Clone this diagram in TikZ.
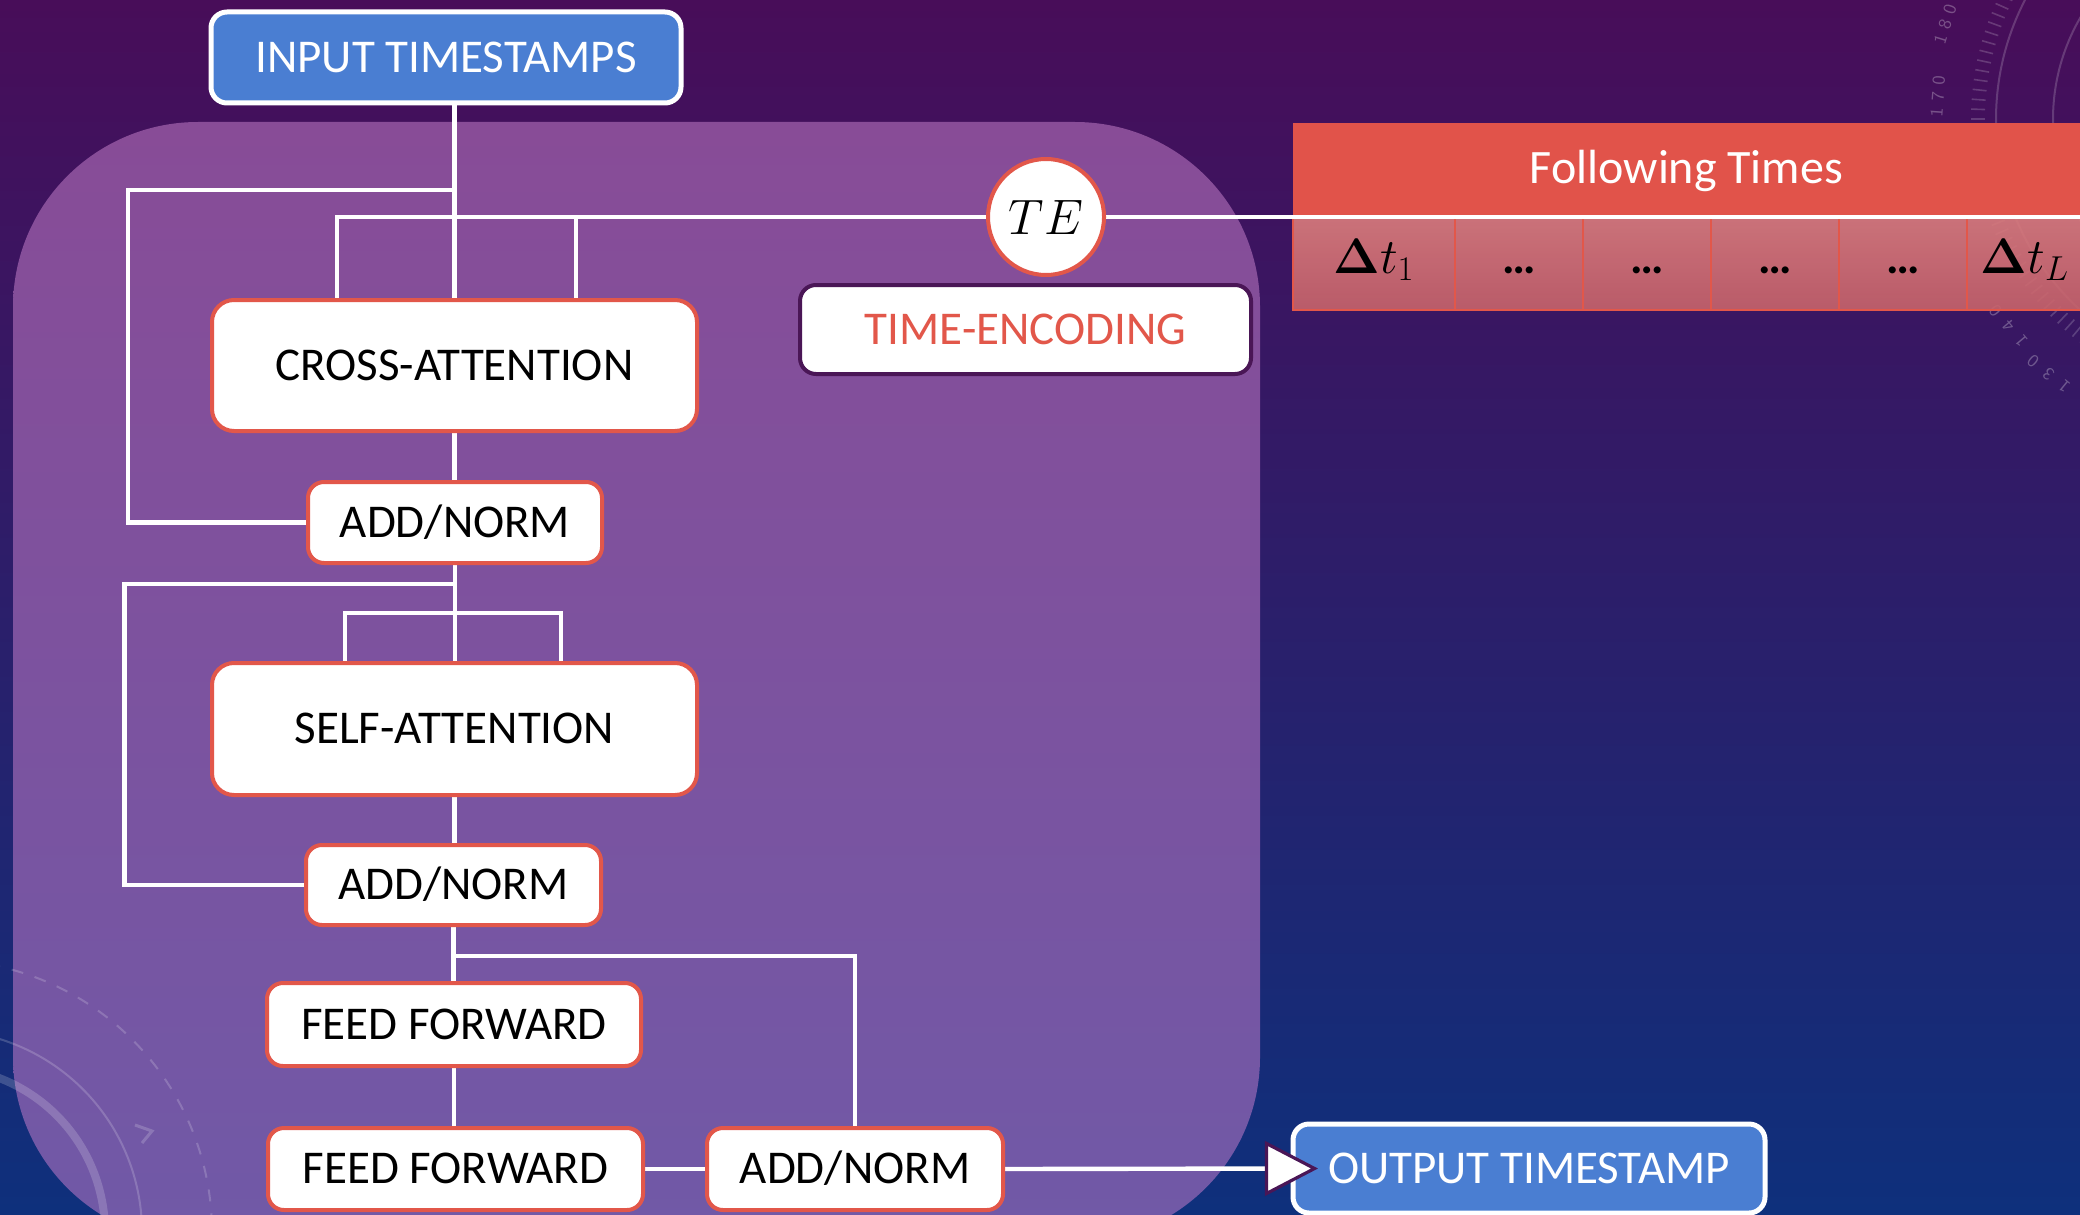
\documentclass[tikz,border=0pt]{standalone}
\usepackage[no-math]{fontspec}
\setmainfont{Carlito}
\usetikzlibrary{calc}
\definecolor{bgtop}{HTML}{480D59}
\definecolor{bgmid}{HTML}{2B1D6D}
\definecolor{bgbot}{HTML}{0E307C}
\definecolor{paneltop}{HTML}{884C97}
\definecolor{panelbot}{HTML}{7059A7}
\definecolor{boxred}{HTML}{E2574A}
\definecolor{ioblue}{HTML}{4A7ED2}
\definecolor{plum}{HTML}{4A1656}
\definecolor{hdrred}{HTML}{E1534A}
\definecolor{celltop}{HTML}{DA7C7C}
\definecolor{cellbot}{HTML}{C8636A}
\pgfdeclarelayer{back}
\pgfdeclarelayer{wires}
\pgfsetlayers{back,wires,main}
\begin{document}
\begin{tikzpicture}[x=0.5pt,y=-0.5pt,
  font=\fontsize{23.5}{28}\selectfont,
  link/.style={draw=white,line width=2.2pt},
  block/.style={draw=boxred,fill=white,line width=2pt,text=black,inner sep=0pt,
    text height=14.8pt,text depth=0pt,align=center},
  bigblock/.style={block,rounded corners=11pt,minimum width=242.5pt,minimum height=65.5pt},
  smallblock/.style={block,rounded corners=8pt},
  ioblock/.style={draw=white,fill=ioblue,line width=2.5pt,text=white,rounded corners=8pt,
    inner sep=0pt,text height=14.8pt,text depth=0pt},
  celltext/.style={inner sep=0pt,text height=12pt,text depth=3.5pt,text=black},
  deco/.style={draw=white,draw opacity=0.18},
  decolabel/.style={text=white,text opacity=0.28,font=\fontsize{9}{11}\selectfont\sffamily,inner sep=0pt},
]
\useasboundingbox (0,0) rectangle (2080,1214);
\clip (0,0) rectangle (2080,1214);

% ---------- blocks ----------
\node[ioblock,minimum width=235pt,minimum height=45.5pt] (input) at (446,57.5) {INPUT TIMESTAMPS};
\node[bigblock] (ca) at (454.5,365.5) {CROSS-ATTENTION};
\node[smallblock,minimum width=147pt,minimum height=40.5pt] (an1) at (455,522.5) {ADD/NORM};
\node[bigblock,minimum height=66pt] (sa) at (454.5,729) {SELF-ATTENTION};
\node[smallblock,minimum width=147.5pt,minimum height=40pt] (an2) at (453.5,885) {ADD/NORM};
\node[smallblock,minimum width=187pt,minimum height=41.5pt] (ff1) at (454,1024.5) {FEED FORWARD};
\node[smallblock,minimum width=187.5pt,minimum height=41pt] (ff2) at (455.5,1169) {FEED FORWARD};
\node[smallblock,minimum width=148pt,minimum height=41pt] (an3) at (855,1169) {ADD/NORM};
\node[ioblock,minimum width=236pt,minimum height=44.5pt] (out) at (1529,1168.5) {OUTPUT TIMESTAMP};
\node[circle,draw=boxred,fill=white,line width=2pt,minimum size=58pt,inner sep=0pt] (te) at (1046,217)
  {\fontsize{42}{46}\selectfont$TE$};
\node[draw=plum,fill=white,line width=2pt,rounded corners=8pt,minimum width=225.5pt,minimum height=44.5pt,
  text=boxred,inner sep=0pt,text height=14.8pt,text depth=0pt] (tenc) at (1025.5,329.5) {TIME-ENCODING};

% arrow head into the output block
\coordinate (tip) at ($(out.west)+(24,0)$);
\draw[plum,fill=white,line width=1.6pt,line join=miter] (tip) -- ++(-48,-25) -- ++(0,50) -- cycle;

% ---------- backdrop ----------
\begin{pgfonlayer}{back}
\shade[top color=bgtop,middle color=bgmid,bottom color=bgbot] (0,0) rectangle (2080,1214);

% protractor ornament, top right
\coordinate (pc) at (2255,119);
\draw[deco,line width=1pt] (pc) ++(212:259) arc[start angle=212,end angle=120,radius=259];
\draw[deco,line width=1pt] (pc) ++(220:202) arc[start angle=220,end angle=120,radius=202];
\foreach \a in {126,128,...,214} \draw[deco,line width=0.8pt] (pc) ++(\a:270) -- ++(\a:14);
% scale numbers, one widely spaced digit at a time along the rim
\foreach \da/\db/\dc/\a/\r/\s in {1/8/0/197/324/16,1/7/0/184/318/16,1/4/0/140/322/20,1/3/0/129/328/20}{
  \node[decolabel,rotate={270-\a}] at ($(pc)+(\a:\r)+(\a+90:-\s)$) {\da};
  \node[decolabel,rotate={270-\a}] at ($(pc)+(\a:\r)$) {\db};
  \node[decolabel,rotate={270-\a}] at ($(pc)+(\a:\r)+(\a+90:\s)$) {\dc};
}

% encoder panel
\shade[top color=paneltop,bottom color=panelbot,rounded corners=92.5pt] (13,122) rectangle (1260,1242);

% ring ornament, bottom left
\coordinate (bc) at (-60,1232);
\draw[deco,line width=4pt] (bc) ++(-100:165) arc[start angle=-100,end angle=5,radius=165];
\draw[deco,line width=1pt] (bc) ++(-100:202) arc[start angle=-100,end angle=5,radius=202];
\draw[deco,line width=1pt,dash pattern=on 6pt off 6pt] (bc) ++(-100:272) arc[start angle=-100,end angle=5,radius=272];
\draw[deco,line width=1.5pt] (135,1125) -- (152,1131) -- (142,1143);

% following-times table: header band, cell row and dividers
\node[fill=hdrred,minimum width=393.5pt,minimum height=46pt,inner sep=0pt,text=white,
  text height=14.8pt,text depth=0pt,font=\fontsize{24}{28}\selectfont] (hdr) at (1686.5,169) {Following Times};
\shade[top color=celltop,bottom color=cellbot,fill opacity=0.9] (1293,219.5) rectangle (2090,310);
\draw[boxred,line width=1pt] (1293,219.5) -- (1293,310) -- (2090,310);
\foreach \xd in {1455,1583,1711,1839,1967} \draw[boxred,line width=1pt] (\xd,219.5) -- (\xd,310);
\node[celltext] (c1) at (1374,264.5) {\fontsize{23}{27}\selectfont$\mathbf{\Delta}t_1$};
\node[celltext] (c2) at (1519,264.5) {\bfseries\ldots};
\node[celltext] (c3) at (1647,264.5) {\bfseries\ldots};
\node[celltext] (c4) at (1775,264.5) {\bfseries\ldots};
\node[celltext] (c5) at (1903,264.5) {\bfseries\ldots};
\node[celltext] (c6) at (2025,264.5) {\fontsize{23}{27}\selectfont$\mathbf{\Delta}t_L$};
\end{pgfonlayer}

% ---------- connectors ----------
\begin{pgfonlayer}{wires}
\coordinate (rA) at (128,190);
\coordinate (tA) at (337,217);
\coordinate (tB) at (576,217);
\coordinate (rB) at (124.5,584);
\coordinate (sA) at (345,613);
\coordinate (sB) at (561,613);
\coordinate (fA) at (855,956);
\coordinate (edge) at (2090,217);

\draw[link] (input.south -| ca.north) -- (ca.north);
\draw[link] (ca.north |- rA) -- (rA) |- (an1.west);
\draw[link] (ca.north -| tA) -- (tA) -- (te);
\draw[link] (tB) -- (ca.north -| tB);
\draw[link] (te) -- (edge);
\draw[link] (ca.south) -- (ca.south |- an1.north);
\draw[link] (an1.south) -- (an1.south |- sa.north);
\draw[link] (an1.south |- rB) -- (rB) |- (an2.west);
\draw[link] (sa.north -| sA) -- (sA) -- (sB) -- (sa.north -| sB);
\draw[link] (sa.south) -- (sa.south |- an2.north);
\draw[link] (an2.south) -- (an2.south |- ff1.north);
\draw[link] (an2.south |- fA) -- (fA) -- (an3.north);
\draw[link] (ff1.south) -- (ff1.south |- ff2.north);
\draw[link] (ff2.east) -- (an3.west);
\draw[link] (an3.east) -- (out.west);
\end{pgfonlayer}
\end{tikzpicture}
\end{document}
